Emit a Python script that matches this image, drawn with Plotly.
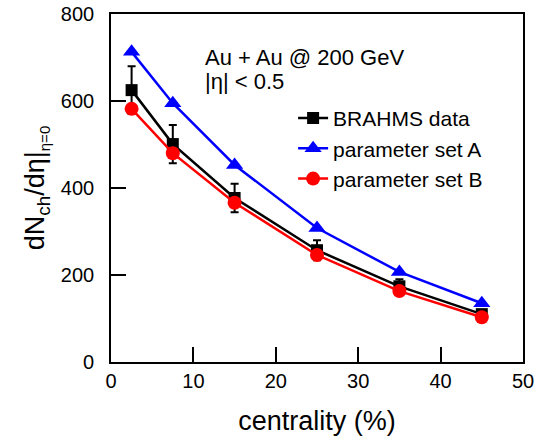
import plotly.graph_objects as go

centrality = [2.5, 7.5, 15, 25, 35, 45]
brahms = [625, 501, 377, 257, 174, 110]
brahms_err = [55, 44, 33, 23, 16, 10]
set_a = [713, 595, 453, 308, 207, 135]
set_b = [582, 480, 366, 246, 163, 103]

FONT = "Liberation Sans, Arial, sans-serif"
X_RANGE = [0, 50]
Y_RANGE = [0, 800]
NB = "\u00a0"

fig = go.Figure()
fig.add_trace(go.Scatter(
    x=centrality, y=brahms, name="BRAHMS data", mode="lines+markers",
    line=dict(color="black", width=2.5),
    marker=dict(symbol="square", size=12, color="black"),
    error_y=dict(type="data", array=brahms_err, color="black", thickness=2, width=4),
))
fig.add_trace(go.Scatter(
    x=centrality, y=set_a, name="parameter set A", mode="lines+markers",
    line=dict(color="#0000ff", width=2.5),
    marker=dict(symbol="triangle-up", size=15, color="#0000ff"),
))
fig.add_trace(go.Scatter(
    x=centrality, y=set_b, name="parameter set B", mode="lines+markers",
    line=dict(color="#ff0000", width=2.5),
    marker=dict(symbol="circle", size=14, color="#ff0000"),
))

fig.update_layout(
    xaxis=dict(
        range=X_RANGE, dtick=10, tick0=0,
        showline=True, linecolor="black", linewidth=1.5, mirror=True,
        ticks="inside", tickcolor="black", ticklen=15, tickwidth=2,
        tickfont=dict(family=FONT, size=20, color="black"),
        title=dict(text="centrality (%)", font=dict(family=FONT, size=27, color="black"), standoff=20),
        automargin=False,
    ),
    yaxis=dict(
        range=Y_RANGE, dtick=200, tick0=0,
        showline=True, linecolor="black", linewidth=1.5, mirror=True,
        ticks="inside", tickcolor="black", ticklen=15, tickwidth=2,
        tickfont=dict(family=FONT, size=20, color="black"),
        ticksuffix=NB + NB,
        title=dict(text="dN<sub>ch</sub>/dη|<sub><span style=\"font-size:15px\">η=0</span></sub>",
                   font=dict(family=FONT, size=27, color="black"), standoff=8),
        automargin=False,
    ),
)

fig.add_annotation(
    x=0.223, y=0.876, xref="paper", yref="paper", xanchor="left", yanchor="middle",
    text="Au + Au @ 200 GeV", showarrow=False,
    font=dict(family=FONT, size=22, color="black"),
)
fig.add_annotation(
    x=0.223, y=0.805, xref="paper", yref="paper", xanchor="left", yanchor="middle",
    text="|η| < 0.5", showarrow=False,
    font=dict(family=FONT, size=22, color="black"),
)

fig.update_layout(
    width=543, height=438,
    margin=dict(l=111, r=20, t=14, b=76),
    paper_bgcolor="white", plot_bgcolor="white",
    font=dict(family=FONT, color="black"),
    showlegend=True,
    legend=dict(
        x=0.442, y=0.759, xanchor="left", yanchor="top",
        bgcolor="rgba(0,0,0,0)", font=dict(family=FONT, size=21, color="black"),
        tracegroupgap=0,
    ),
)

fig.write_html("out.html", config={"displayModeBar": False},
               post_script="document.body.style.margin='0px';")
